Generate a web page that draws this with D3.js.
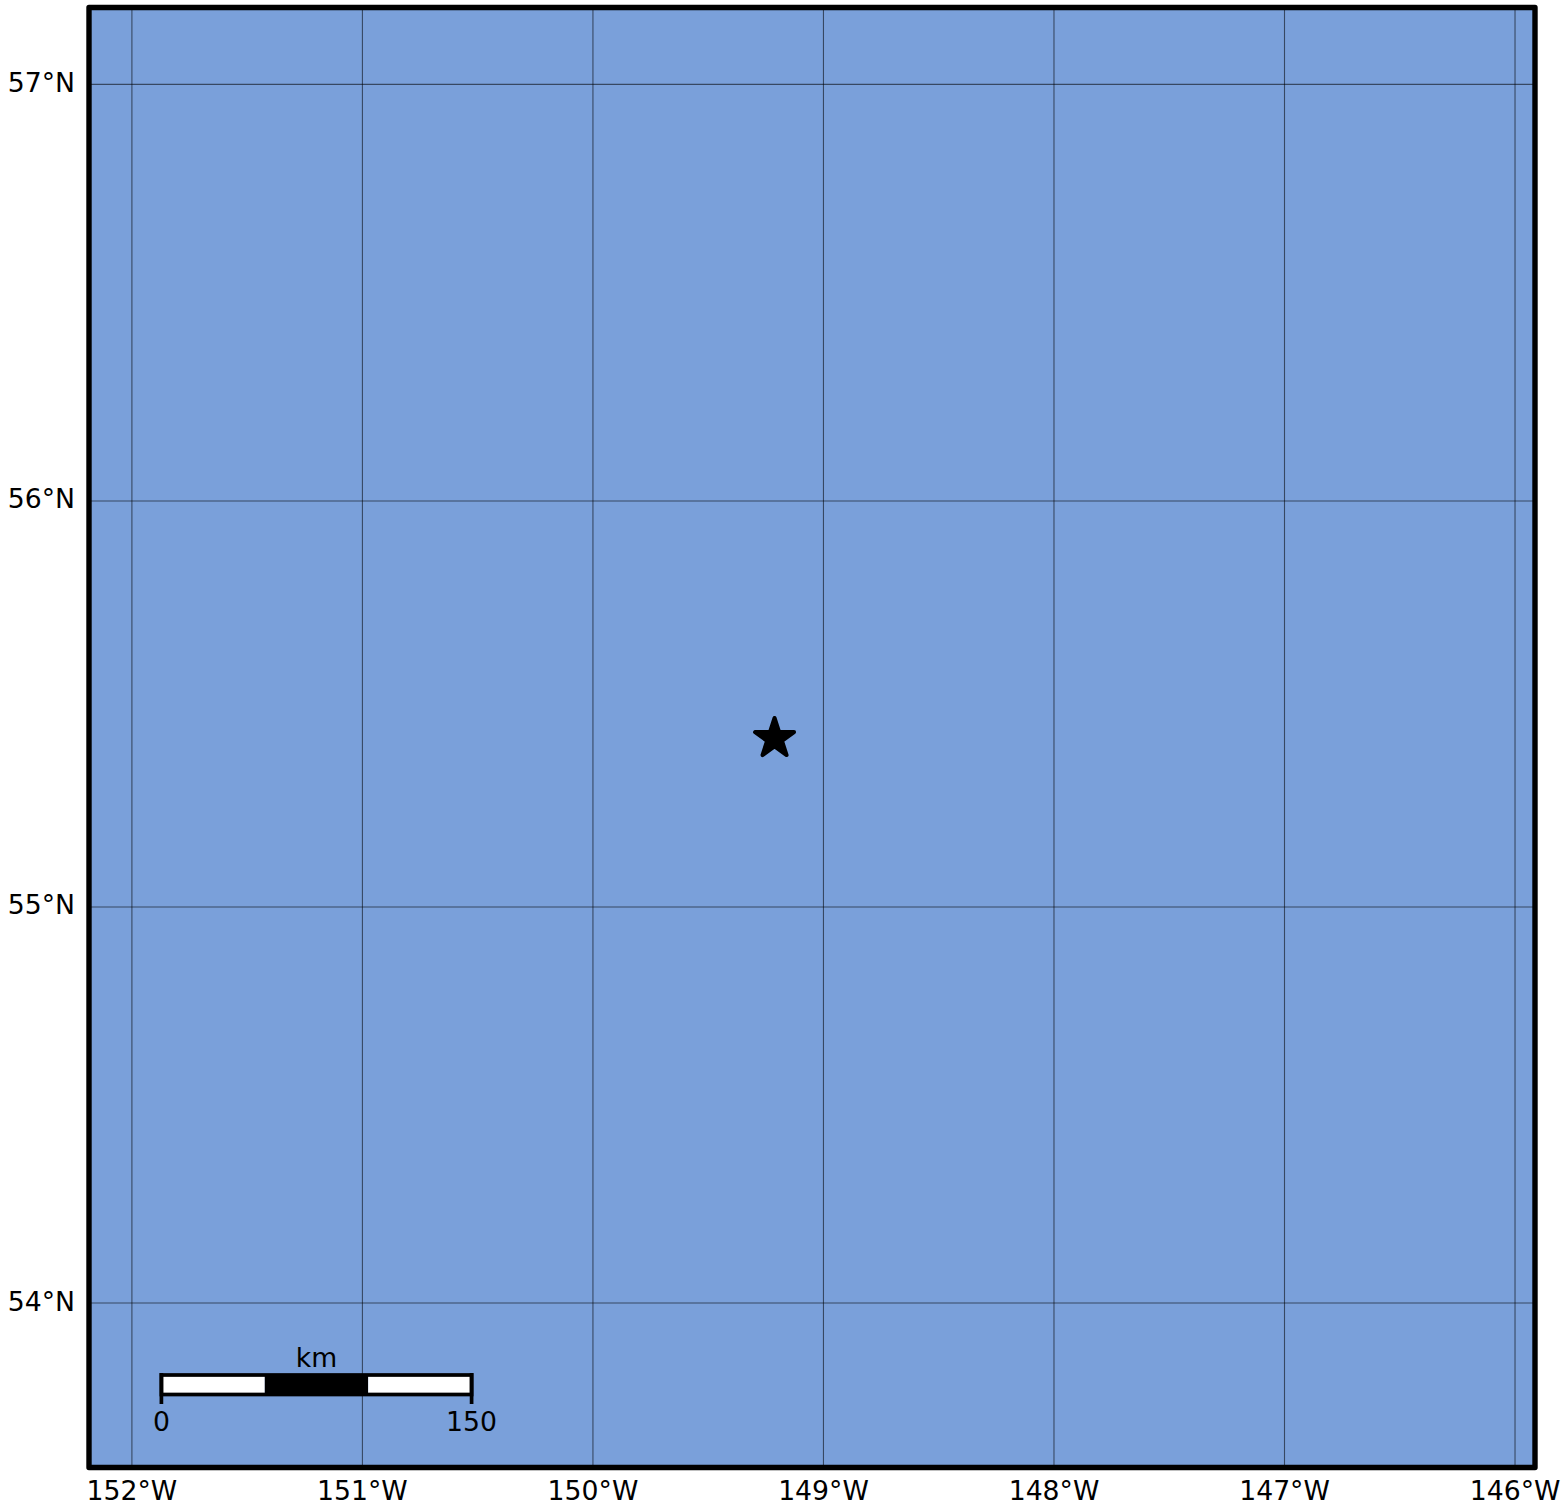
<!DOCTYPE html>
<html>
<head>
<meta charset="utf-8">
<script src="https://cdn.jsdelivr.net/npm/d3@7"></script>
<style>
html, body { margin: 0; padding: 0; background: #fff; }
svg { display: block; }
text { font-family: "DejaVu Sans", sans-serif; font-size: 26.7px; fill: #000; }
</style>
</head>
<body>
<svg id="svg" width="1565" height="1507"></svg>
<script>
// graticule
const lonTicks = [-152, -151, -150, -149, -148, -147, -146];
const latTicks = [54, 55, 56, 57];

// event location
const eventLon = -149.21;
const eventLat = 55.417;

// scale bar
const barTicks = [0, 150];
const barSegments = [0, 50, 100, 150];
const barUnit = "km";

const left = 89, right = 1535, top_ = 7.5, bottom = 1467.5;
const width = right - left, height = bottom - top_;

// mercator, about 230 px per degree; the longitudes come out a touch wider
let projection = d3.geoMercator()
    .scale(229.95 * 180 / Math.PI)
    .center([-152, 56])
    .translate([131.4, 500.5]);

let lonPx = 230.52 / 229.95;

let xLon = d3.scaleLinear().domain(lonTicks).range(lonTicks.map(d => 131.4 + (projection([d, 56])[0] - 131.4) * lonPx - left));
let yLat = d3.scaleLinear().domain(latTicks).range(latTicks.map(d => projection([-152, d])[1] - top_));
let xKm = d3.scaleLinear().domain([0, 150]).range([161.4, 471.6]);

let svg = d3.select("#svg");

let graph = svg.append("g").attr("transform", "translate(" + left + "," + top_ + ")");

graph.append("rect")
    .attr("width", width).attr("height", height)
    .attr("fill", "#7aa0da");

let xAxis = graph.append("g")
    .attr("transform", "translate(0," + height + ")")
    .call(d3.axisBottom(xLon).tickValues(lonTicks).tickSize(-height).tickPadding(13.5)
        .tickFormat(d => Math.abs(d) + "°W"));

let yAxis = graph.append("g")
    .call(d3.axisLeft(yLat).tickValues(latTicks).tickSize(-width).tickPadding(14)
        .tickFormat(d => d + "°N"));

[xAxis, yAxis].forEach(function (axis) {
    axis.attr("font-family", null).attr("font-size", null);
    axis.select(".domain").remove();
    axis.selectAll("line").attr("stroke", "#000").attr("stroke-opacity", 0.55).attr("stroke-width", 1.1);
});
yAxis.selectAll("text").attr("dy", "0.28em");

// frame
graph.append("rect")
    .attr("width", width).attr("height", height)
    .attr("fill", "none")
    .attr("stroke", "#000").attr("stroke-width", 5.4)
    .attr("stroke-linejoin", "round");

// star
let starX = xLon(eventLon) + left;
let starY = projection([eventLon, eventLat])[1];
svg.append("path")
    .attr("d", d3.symbol(d3.symbolStar, 472)())
    .attr("transform", "translate(" + starX + "," + starY + ")")
    .attr("fill", "#000").attr("stroke", "#000").attr("stroke-width", 4)
    .attr("stroke-linejoin", "round");

// scale bar
let bar = svg.append("g");
bar.selectAll("rect")
    .data(d3.pairs(barSegments))
    .enter()
    .append("rect")
    .attr("x", d => xKm(d[0]))
    .attr("width", d => xKm(d[1]) - xKm(d[0]))
    .attr("y", 1375)
    .attr("height", 19.5)
    .attr("fill", (d, i) => i % 2 ? "#000" : "#fff");
bar.append("rect")
    .attr("x", xKm(0)).attr("width", xKm(150) - xKm(0))
    .attr("y", 1375).attr("height", 19.5)
    .attr("fill", "none").attr("stroke", "#000").attr("stroke-width", 3.7);
bar.selectAll(".bar-tick")
    .data(barTicks)
    .enter()
    .append("line")
    .attr("class", "bar-tick")
    .attr("x1", d => xKm(d)).attr("x2", d => xKm(d))
    .attr("y1", 1373).attr("y2", 1404)
    .attr("stroke", "#000").attr("stroke-width", 3.7);
bar.selectAll(".bar-label")
    .data(barTicks)
    .enter()
    .append("text")
    .attr("class", "bar-label")
    .attr("x", d => xKm(d)).attr("y", 1431)
    .attr("text-anchor", "middle")
    .text(d => d);
bar.append("text")
    .attr("x", xKm(75)).attr("y", 1367)
    .attr("text-anchor", "middle")
    .text(barUnit);
</script>
</body>
</html>
